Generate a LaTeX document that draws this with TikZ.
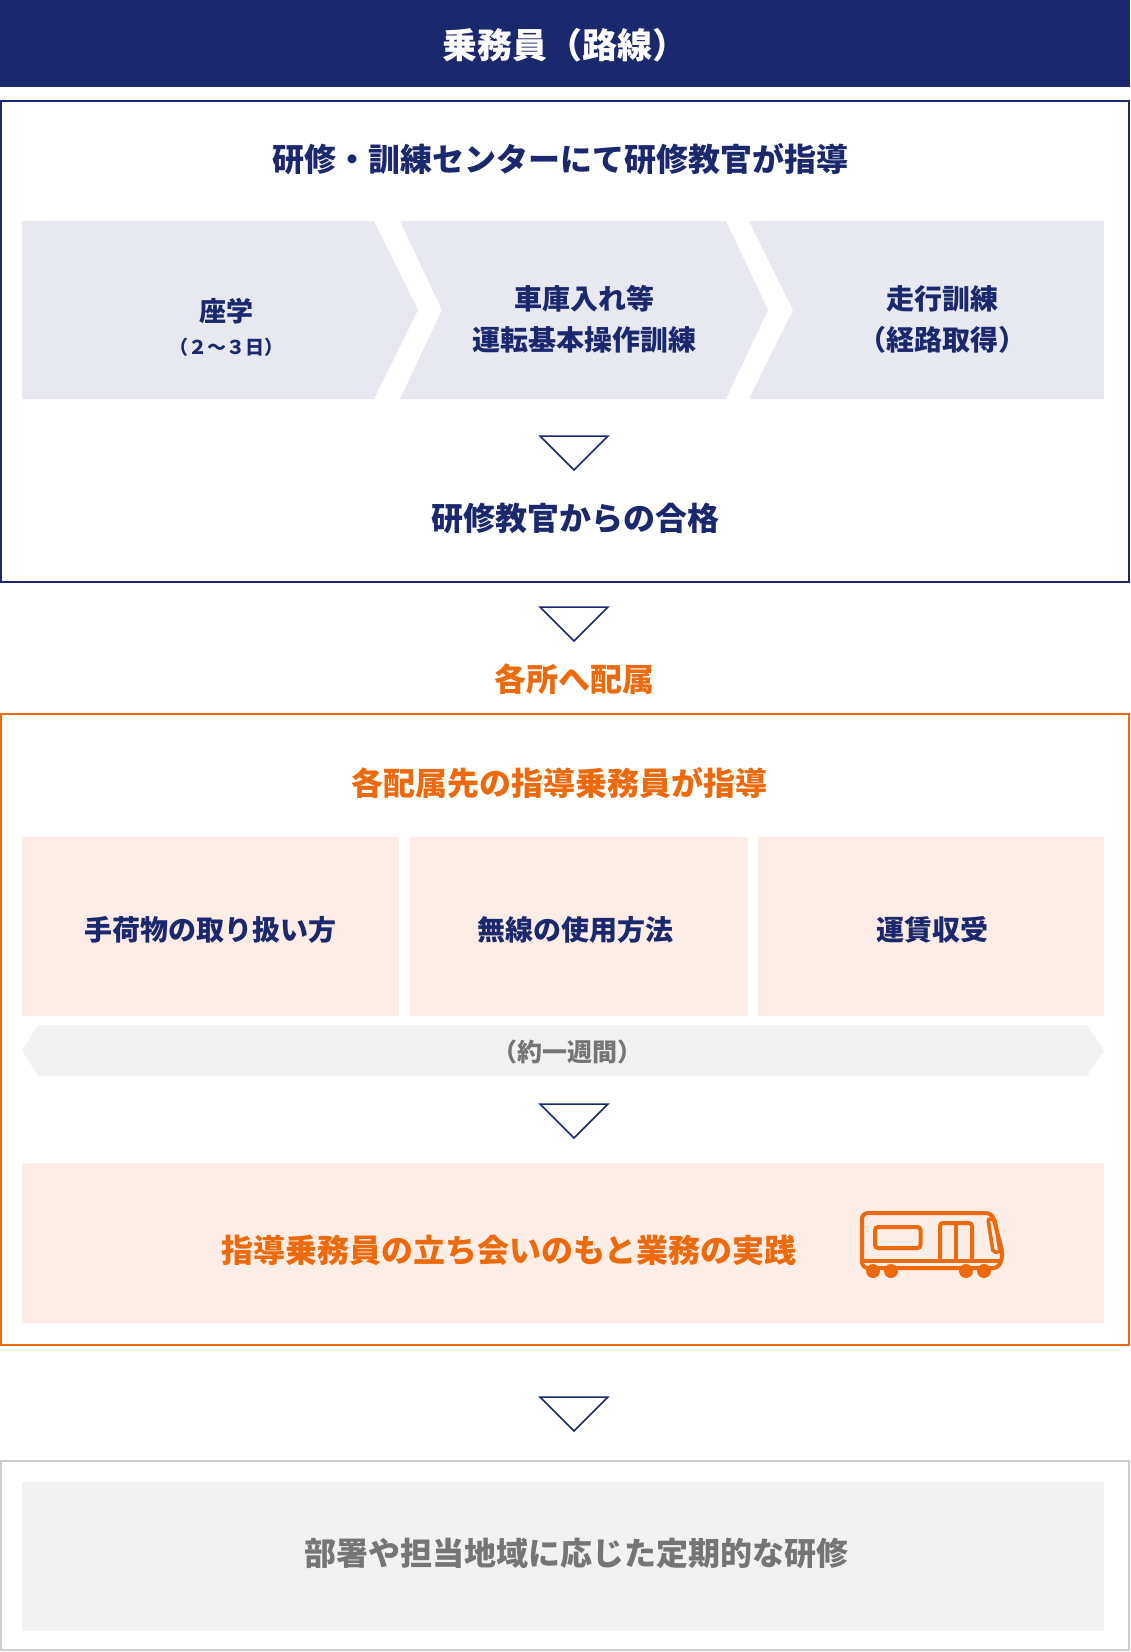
\documentclass[tikz,border=0pt]{standalone}
\usepackage{fontspec}
\setmainfont{Noto Sans CJK JP}
\definecolor{navy}{HTML}{1B286E}
\definecolor{orng}{HTML}{EC6A0C}
\definecolor{peach}{HTML}{FCEEE6}
\definecolor{lilac}{HTML}{E7E8F0}
\definecolor{pale}{HTML}{F2F2F2}
\definecolor{greytext}{HTML}{757575}
\definecolor{greyline}{HTML}{CCCCCC}

\begin{document}
\begin{tikzpicture}[x=1pt, y=-1pt,
  txt/.style={font=\bfseries\fontsize{#1}{#1}\selectfont, inner sep=0pt, align=center},
  twoline/.style={font=\bfseries\fontsize{28}{41}\selectfont, inner sep=0pt, align=center, text=navy},
  downmark/.style={draw=navy, line width=1.5pt, fill=white, line join=miter}]
  \useasboundingbox (0,0) rectangle (1130,1652);

  % Header bar
  \fill[navy] (0,0) rectangle (1130,87);
  \node[txt=35, text=white] (head) at (565,45) {乗務員（路線）};

  % Training centre block
  \draw[navy, line width=2pt] (1,101) rectangle (1129,581.5);
  \node[txt=32, text=navy] (centre) at (560,159) {研修・訓練センターにて研修教官が指導};

  % Three steps as chevrons
  \fill[lilac] (22,221) -- (374,221) -- (418,310) -- (374,399) -- (22,399) -- cycle;
  \fill[lilac] (400,221) -- (726,221) -- (768,310) -- (726,399) -- (400,399) -- (442,310) -- cycle;
  \fill[lilac] (749,221) -- (1104,221) -- (1104,399) -- (749,399) -- (793,310) -- cycle;
  \node[txt=27, text=navy] (zagaku) at (226,311) {座学};
  \node[txt=19, text=navy] (zagakudays) at (226,347) {（２～３日）};
  \node[twoline] (shako) at (584,319) {車庫入れ等\\運転基本操作訓練};
  \node[twoline] (sokou) at (942,319) {走行訓練\\（経路取得）};

  % Down marks between stages
  \foreach \y in {436,607,1104,1397} {
    \draw[downmark] (540,\y) -- (608,\y) -- (574,\y+34) -- cycle;
  }

  \node[txt=32, text=navy] (pass) at (575,518) {研修教官からの合格};
  \node[txt=32, text=orng] (haizoku) at (574,679) {各所へ配属};

  % On-site block
  \draw[orng, line width=2pt] (1,714) rectangle (1129,1345);
  \node[txt=32, text=orng] (onsite) at (559,783) {各配属先の指導乗務員が指導};

  \fill[peach] (22,837) rectangle (399,1015.5);
  \fill[peach] (410,837) rectangle (748,1015.5);
  \fill[peach] (758,837) rectangle (1104,1015.5);
  \node[txt=28, text=navy] (nimotsu) at (210,930) {手荷物の取り扱い方};
  \node[txt=28, text=navy] (musen) at (575,930) {無線の使用方法};
  \node[txt=28, text=navy] (unchin) at (932,930) {運賃収受};

  % One-week band
  \fill[pale] (22,1050.5) -- (38,1025) -- (1087,1025) -- (1104,1050.5) -- (1087,1076) -- (38,1076) -- cycle;
  \node[txt=25, text=greytext] (week) at (567,1052) {（約一週間）};

  % Practice under supervision
  \fill[peach] (22,1163) rectangle (1104,1323);
  \node[txt=32, text=orng] (practice) at (509,1250) {指導乗務員の立ち会いのもと業務の実践};

  % Train icon
  \begin{scope}[orng, line width=4pt]
    \draw[rounded corners=6pt] (862,1213) -- (992,1213) -- (1003,1254) -- (999,1268) -- (862,1268) -- cycle; % body
    \draw (862,1261) -- (1002,1261); % floor line
    \draw[rounded corners=3pt] (875,1227) rectangle (920.5,1248); % side window
    \draw[rounded corners=3pt] (940,1261) -- (940,1223) -- (972,1223) -- (972,1261); % door
    \draw (956,1223) -- (956,1261);
    \draw[line width=3.5pt, rounded corners=2pt] (988,1219) -- (995,1219) -- (1000,1252) -- (993,1252) -- cycle; % front window
    \foreach \x in {873,891,966,984} {
      \fill (\x,1271) circle (7pt); % wheels
    }
  \end{scope}

  % Regular training block
  \draw[greyline, line width=2pt] (1,1461) rectangle (1129,1650);
  \fill[pale] (22,1482) rectangle (1104,1631);
  \node[txt=32, text=greytext] (regular) at (576,1553) {部署や担当地域に応じた定期的な研修};
\end{tikzpicture}
\end{document}
